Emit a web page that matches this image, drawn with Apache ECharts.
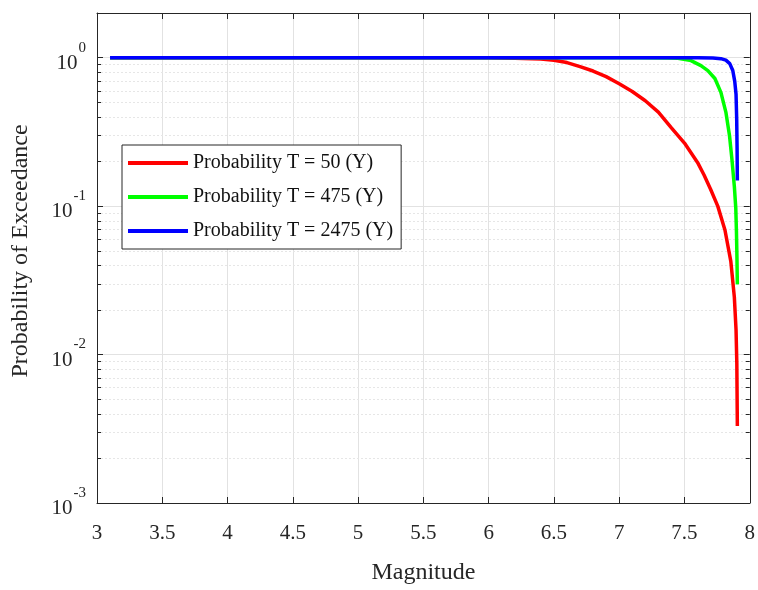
<!DOCTYPE html>
<html>
<head>
<meta charset="utf-8">
<script src="https://cdn.jsdelivr.net/npm/echarts@6/dist/echarts.min.js"></script>
<style>
  html, body { margin: 0; padding: 0; background: #fff; }
  #chart { width: 758px; height: 590px; }
</style>
</head>
<body>
<div id="chart"></div>
<script>
// Probability of exceedance vs. magnitude for three return periods
const magT50 = [3.1, 4.5, 6.0, 6.2, 6.4, 6.5, 6.6, 6.7, 6.8, 6.9, 7.0, 7.1, 7.2, 7.3, 7.4, 7.5, 7.6, 7.65, 7.7, 7.755, 7.81, 7.855, 7.882, 7.895, 7.901, 7.905];
const probT50 = [1, 1, 0.9995, 0.9931, 0.9795, 0.9616, 0.9268, 0.871, 0.813, 0.745, 0.668, 0.592, 0.513, 0.430, 0.337, 0.266, 0.197, 0.162, 0.130, 0.100, 0.069, 0.0424, 0.0244, 0.0147, 0.0087, 0.0033];

const magT475 = [3.1, 5.0, 7.0, 7.145, 7.374, 7.45, 7.55, 7.626, 7.679, 7.733, 7.779, 7.817, 7.845, 7.863, 7.882, 7.893, 7.898, 7.902, 7.905];
const probT475 = [1, 1, 1, 0.999, 0.997, 0.991, 0.955, 0.884, 0.819, 0.724, 0.584, 0.430, 0.298, 0.209, 0.136, 0.097, 0.068, 0.045, 0.0297];

const magT2475 = [3.1, 5.0, 7.6, 7.718, 7.779, 7.817, 7.847, 7.87, 7.885, 7.895, 7.9, 7.903, 7.905];
const probT2475 = [1, 1, 1, 0.995, 0.985, 0.962, 0.912, 0.819, 0.692, 0.567, 0.386, 0.244, 0.149];

const seriesNames = ['Probability T = 50 (Y)', 'Probability T = 475 (Y)', 'Probability T = 2475 (Y)'];
const seriesColors = ['#ff0000', '#00ff00', '#0000ff'];

// axis ranges
const xMin = 3, xMax = 8, xStep = 0.5;
const yMin = 0.001, yMax = 2;
const minorMantissas = [2, 3, 4, 5, 6, 7, 8, 9];
const minorDecades = [-3, -2, -1];

const FONT = '"Liberation Serif", "Times New Roman", serif';
const AXIS_COLOR = '#262626';
const TEXT_COLOR = '#262626';

function pairs(xs, ys) { return xs.map((x, i) => [x, ys[i]]); }

const minorValues = [];
minorDecades.forEach(d => minorMantissas.forEach(m => minorValues.push([m * Math.pow(10, d)])));

const chart = echarts.init(document.getElementById('chart'), null, { renderer: 'canvas' });

// decade exponent, or null between decades
function decade(v) {
  const e = Math.log10(v);
  const r = Math.round(e);
  return Math.abs(e - r) > 1e-6 ? null : r;
}
// base "10" followed by an invisible copy of the exponent so both parts line up
function baseLabel(v) {
  const r = decade(v);
  return r === null ? '' : '{b|10}{h|' + r + '}';
}
function expLabel(v) {
  const r = decade(v);
  return r === null ? '' : '{s|' + r + '}';
}

function curve(i, xs, ys) {
  return {
    name: seriesNames[i], type: 'line', data: pairs(xs, ys),
    showSymbol: false, color: seriesColors[i], z: 3 + i,
    lineStyle: { width: 3.5, color: seriesColors[i] }
  };
}

const supStyle = { fontFamily: FONT, fontSize: 15, color: TEXT_COLOR, padding: [0, 0, 0, 1] };

const option = {
  backgroundColor: '#ffffff',
  animation: false,
  grid: { left: 97, right: 5, top: 13, bottom: 82, containLabel: false },
  legend: {
    data: seriesNames,
    orient: 'vertical',
    left: 122,
    top: 145,
    padding: [8, 8, 8, 6],
    itemGap: 14,
    itemWidth: 60,
    itemHeight: 4,
    icon: 'rect',
    borderColor: AXIS_COLOR,
    borderWidth: 1,
    backgroundColor: '#ffffff',
    textStyle: { fontFamily: FONT, fontSize: 20, lineHeight: 20, color: '#111' }
  },
  xAxis: [{
    type: 'value', min: xMin, max: xMax, interval: xStep,
    name: 'Magnitude', nameLocation: 'middle', nameGap: 58,
    nameTextStyle: { fontFamily: FONT, fontSize: 24, color: TEXT_COLOR },
    axisLine: { show: true, lineStyle: { color: AXIS_COLOR, width: 1 } },
    axisTick: { show: true, inside: true, length: 6, lineStyle: { color: AXIS_COLOR } },
    axisLabel: { fontFamily: FONT, fontSize: 21, color: TEXT_COLOR, margin: 20 },
    splitLine: { show: true, lineStyle: { color: '#e2e2e2', width: 1 } }
  }, {
    type: 'value', min: xMin, max: xMax, interval: xStep, position: 'top',
    axisLine: { show: true, lineStyle: { color: AXIS_COLOR, width: 1 } },
    axisTick: { show: true, inside: true, length: 6, lineStyle: { color: AXIS_COLOR } },
    axisLabel: { show: false },
    splitLine: { show: false }
  }],
  yAxis: [{
    type: 'log', logBase: 10, min: yMin, max: yMax,
    name: 'Probability of Exceedance', nameLocation: 'middle', nameGap: 64,
    nameTextStyle: { fontFamily: FONT, fontSize: 24, color: TEXT_COLOR, padding: [0, 0, 0, 14] },
    axisLine: { show: true, lineStyle: { color: AXIS_COLOR, width: 1 } },
    axisTick: { show: true, inside: true, length: 6, lineStyle: { color: AXIS_COLOR } },
    axisLabel: {
      margin: 11,
      padding: [11, 0, 0, 0],
      formatter: baseLabel,
      rich: {
        b: { fontFamily: FONT, fontSize: 21, color: TEXT_COLOR },
        h: Object.assign({}, supStyle, { color: 'rgba(0,0,0,0)' })
      }
    },
    splitLine: { show: true, lineStyle: { color: '#e2e2e2', width: 1 } }
  }, {
    type: 'log', logBase: 10, min: yMin, max: yMax, position: 'right',
    axisLine: { show: true, lineStyle: { color: AXIS_COLOR, width: 1 } },
    axisTick: { show: true, inside: true, length: 6, lineStyle: { color: AXIS_COLOR } },
    axisLabel: { show: false },
    splitLine: { show: false }
  }, {
    // exponents of the decade labels, raised above the base
    type: 'log', logBase: 10, min: yMin, max: yMax, position: 'left', offset: 0,
    axisLine: { show: false },
    axisTick: { show: false },
    axisLabel: {
      margin: 11,
      padding: [0, 0, 20, 0],
      formatter: expLabel,
      rich: { s: supStyle }
    },
    splitLine: { show: false }
  }],
  series: [
    {
      // minor decade grid lines and minor ticks on both sides
      type: 'custom',
      name: 'minor',
      xAxisIndex: 0, yAxisIndex: 0,
      silent: true,
      z: 1,
      data: minorValues,
      renderItem: function (params, api) {
        const v = api.value(0);
        const p0 = api.coord([xMin, v]);
        const p1 = api.coord([xMax, v]);
        const y = Math.round(p0[1]) + 0.5;
        return {
          type: 'group',
          children: [
            { type: 'line', shape: { x1: p0[0], y1: y, x2: p1[0], y2: y },
              style: { stroke: '#e6e6e6', lineWidth: 1, lineDash: [2, 2] } },
            { type: 'line', shape: { x1: p0[0], y1: y, x2: p0[0] + 4, y2: y },
              style: { stroke: AXIS_COLOR, lineWidth: 1 } },
            { type: 'line', shape: { x1: p1[0] - 4, y1: y, x2: p1[0], y2: y },
              style: { stroke: AXIS_COLOR, lineWidth: 1 } }
          ]
        };
      }
    },
    curve(0, magT50, probT50),
    curve(1, magT475, probT475),
    curve(2, magT2475, probT2475)
  ]
};

chart.setOption(option);
</script>
</body>
</html>
